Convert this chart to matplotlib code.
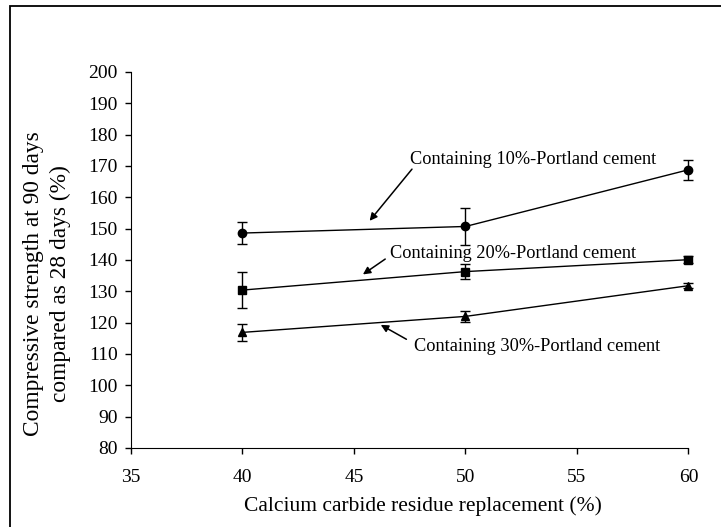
#!/usr/bin/env python3

import matplotlib.pyplot as plt
from matplotlib.patches import Rectangle

plt.rcParams["font.family"] = ["Liberation Serif", "DejaVu Serif"]

REPLACEMENT = [40, 50, 60]

PC10 = [148.6, 150.7, 168.8]
PC10_ERR = [3.6, 5.8, 3.2]

PC20 = [130.4, 136.3, 140.1]
PC20_ERR = [5.7, 2.3, 1.2]

PC30 = [116.9, 122.0, 131.8]
PC30_ERR = [2.8, 1.7, 0.8]

X_TICKS = [35, 40, 45, 50, 55, 60]
Y_TICKS = list(range(80, 201, 10))

# label text, text anchor (left, centre), arrow tail, arrow head
LABELS = [
    ("Containing 10%-Portland cement", (47.5, 172.2), (47.6, 169.0), (45.7, 152.5)),
    ("Containing 20%-Portland cement", (46.6, 142.1), (46.4, 140.3), (45.4, 135.4)),
    ("Containing 30%-Portland cement", (47.7, 112.3), (47.35, 114.7), (46.2, 119.3)),
]


def main():
    fig = plt.figure(figsize=(7.21, 5.27), dpi=100)
    ax = fig.add_axes([131 / 721, 79 / 527, 557.5 / 721, 376 / 527])

    # outer frame of the original figure
    fig.patches.append(Rectangle((10 / 721, -0.05), 1.2, (527 - 6) / 527 + 0.05,
                                 transform=fig.transFigure, fill=False,
                                 edgecolor="black", linewidth=1.3))

    series = [
        (PC10, PC10_ERR, "o"),
        (PC20, PC20_ERR, "s"),
        (PC30, PC30_ERR, "^"),
    ]
    for values, errs, marker in series:
        ax.errorbar(REPLACEMENT, values, yerr=errs, color="black", marker=marker,
                    markersize=6, linewidth=1.0, elinewidth=1.0, capsize=3.6,
                    capthick=1.0, clip_on=False)

    arrow = dict(arrowstyle="-|>", color="black", linewidth=1.1,
                 mutation_scale=11, shrinkA=0, shrinkB=0)
    for text, pos, tail, head in LABELS:
        ax.text(pos[0], pos[1], text, fontsize=13.2, ha="left", va="center")
        ax.annotate("", xy=head, xytext=tail, arrowprops=arrow)

    ax.set_xlim(35, 60)
    ax.set_ylim(80, 200)
    ax.set_xticks(X_TICKS)
    ax.set_yticks(Y_TICKS)
    ax.tick_params(direction="out", length=4.5, width=1, labelsize=14)
    ax.tick_params(axis="x", pad=10.5)
    ax.tick_params(axis="y", pad=5)
    ax.spines["top"].set_visible(False)
    ax.spines["right"].set_visible(False)

    fig.text(423 / 721, 1 - 506 / 527, "Calcium carbide residue replacement (%)",
             fontsize=15.5, ha="center", va="center")
    fig.text(47 / 721, 1 - 284 / 527,
             "Compressive strength at 90 days\ncompared as 28 days (%)",
             fontsize=16.8, ha="center", va="center", rotation=90,
             multialignment="center", linespacing=1.35)

    fig.savefig("out.png", dpi=100)
    plt.close(fig)


if __name__ == "__main__":
    main()
